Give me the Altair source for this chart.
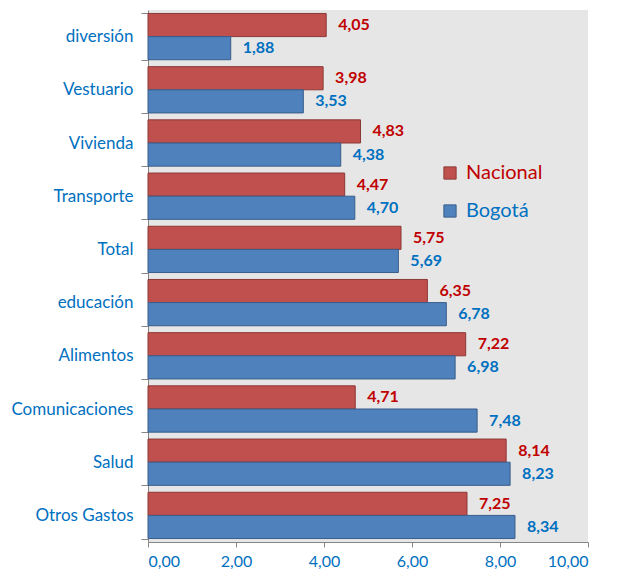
import altair as alt
import pandas as pd

categories = ["diversión", "Vestuario", "Vivienda", "Transporte", "Total",
              "educación", "Alimentos", "Comunicaciones", "Salud", "Otros Gastos"]
nacional = [4.05, 3.98, 4.83, 4.47, 5.75, 6.35, 7.22, 4.71, 8.14, 7.25]
bogota = [1.88, 3.53, 4.38, 4.70, 5.69, 6.78, 6.98, 7.48, 8.23, 8.34]
series = ["Nacional", "Bogotá"]
x_ticks = [0, 2, 4, 6, 8, 10]

rows = []
for c, n, b in zip(categories, nacional, bogota):
    rows.append({"cat": c, "series": "Nacional", "value": n})
    rows.append({"cat": c, "series": "Bogotá", "value": b})
df = pd.DataFrame(rows)
df["series2"] = df["series"]

FONT = "Lato"
BLUE_TXT = "#0070C0"
RED_TXT = "#C00000"

y_enc = alt.Y("cat:N", sort=categories, title=None,
              scale=alt.Scale(paddingInner=0.13, paddingOuter=0.065),
              axis=alt.Axis(tickBand="extent", tickSize=7, labelPadding=8,
                            labelFontSize=17, labelFont=FONT, labelColor=BLUE_TXT,
                            domainColor="#868686", tickColor="#868686"))
yoff = alt.YOffset("series:N", sort=series, scale=alt.Scale(domain=series, paddingInner=0, paddingOuter=0))

common_leg = dict(title=None, orient="none", symbolType="square", symbolSize=150,
                  symbolStrokeWidth=1, labelFont=FONT, labelFontSize=20, labelOffset=6)

base = alt.Chart(df)

bars = base.mark_bar(strokeWidth=1).encode(
    y=y_enc,
    yOffset=yoff,
    x=alt.X("value:Q", title=None,
            scale=alt.Scale(domain=[0, 10], nice=False),
            axis=alt.Axis(values=x_ticks, grid=False, tickSize=5, labelPadding=6,
                          labelFontSize=16, labelFont=FONT, labelColor=BLUE_TXT,
                          domainColor="#868686", tickColor="#868686",
                          labelExpr="replace(format(datum.value, '.2f'), '.', ',')")),
    fill=alt.Fill("series:N", sort=series,
                  scale=alt.Scale(domain=series, range=["#C0504D", "#4F81BD"]),
                  legend=alt.Legend(values=["Nacional"], legendX=292, legendY=153,
                                    symbolStrokeColor="#8C3836", labelColor=RED_TXT,
                                    **common_leg)),
    stroke=alt.Stroke("series2:N",
                      scale=alt.Scale(domain=["Bogotá", "Nacional"], range=["#385D8A", "#8C3836"]),
                      legend=alt.Legend(values=["Bogotá"], legendX=292, legendY=191,
                                        symbolFillColor="#4F81BD", labelColor=BLUE_TXT,
                                        **common_leg)),
)

labels = base.transform_calculate(
    lbl="replace(format(datum.value, '.2f'), '.', ',')"
).mark_text(align="left", baseline="middle", dx=12, fontWeight="bold",
            fontSize=16, font=FONT).encode(
    y=alt.Y("cat:N", sort=categories),
    yOffset=alt.YOffset("series:N", sort=series),
    x=alt.X("value:Q"),
    text="lbl:N",
    color=alt.Color("series:N", scale=alt.Scale(domain=series, range=[RED_TXT, BLUE_TXT]),
                    legend=None),
)

chart = alt.layer(bars, labels).resolve_scale(color="independent").properties(
    width=440, height=532,
    autosize=alt.AutoSizeParams(type="none"),
    padding={"left": 140, "top": 2, "right": 27, "bottom": 29},
).configure_view(fill="#E6E6E6", stroke=None)

chart.save("out.html", embed_options={"renderer": "svg", "actions": False})
